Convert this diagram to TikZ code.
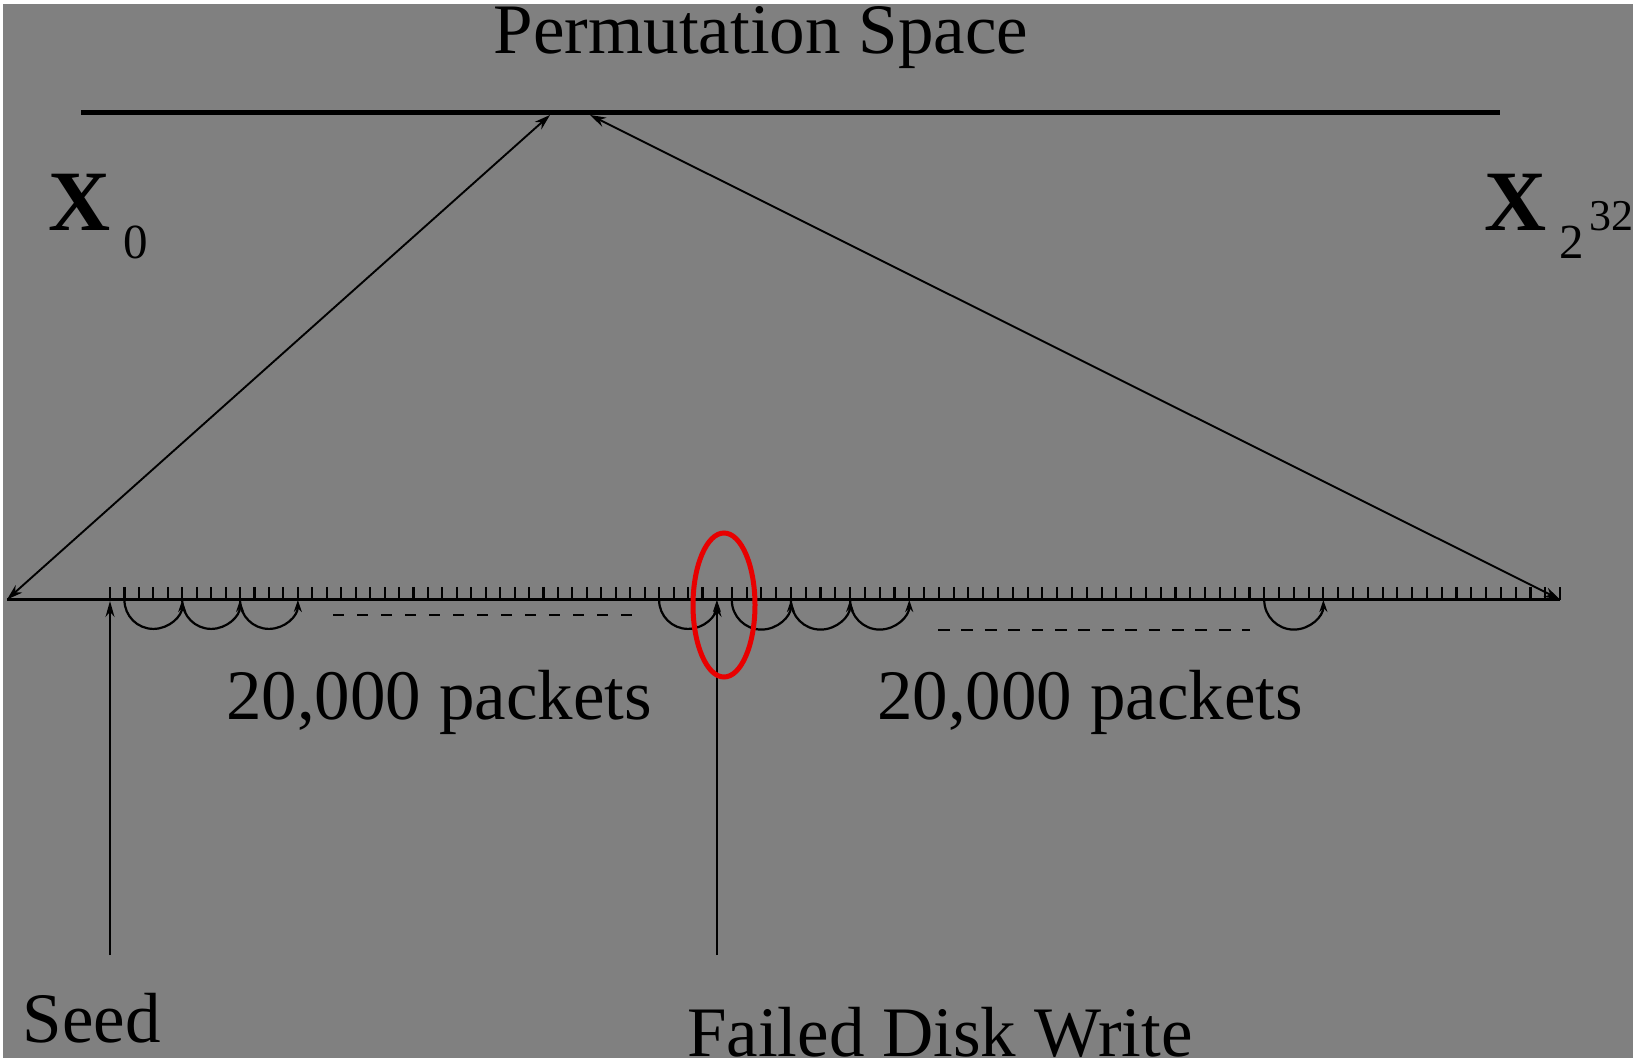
\documentclass[tikz,border=0pt]{standalone}
\usepackage{fontspec}
\setmainfont{Liberation Serif}
\usetikzlibrary{arrows.meta}
\definecolor{bggray}{RGB}{128,128,128}
\definecolor{markred}{RGB}{232,0,0}
\begin{document}
\begin{tikzpicture}[x=1pt,y=1pt,
  lbl/.style={inner sep=0pt,outer sep=0pt,text=black},
  bigtxt/.style={lbl,font=\fontsize{71}{71}\selectfont},
  bigarrow/.style={line width=1.9pt,{Stealth[length=16pt,width=10pt]}-{Stealth[length=16pt,width=10pt]}},
  uparrow/.style={line width=1.7pt,-{Stealth[length=16pt,width=9pt]}},
  tickmark/.style={line width=2.1pt},
  hoparrow/.style={line width=2.2pt,-{Stealth[open,length=12pt,width=8pt]}},
  dashline/.style={line width=2.8pt}
]
\useasboundingbox (0,0) rectangle (1633,-1063);
\clip (0,0) rectangle (1633,-1063);
\fill[white] (0,0) rectangle (1633,-1063);
\fill[bggray] (3,-4) rectangle (1633,-1058);

% key points
\coordinate (TL) at (81,-112);
\coordinate (TR) at (1500,-112);
\coordinate (PL) at (550,-115);
\coordinate (PR) at (590,-115);
\coordinate (L) at (7,-599.5);
\coordinate (R) at (1560,-599.5);
\coordinate (seedB) at (110,-955);
\coordinate (seedT) at (110,-601);
\coordinate (failB) at (717,-955);
\coordinate (failT) at (717,-601);

% title and top line
\node[bigtxt,anchor=base,text height=46pt] (title) at (761,-53) {Permutation Space};
\draw[line width=5pt] (TL) -- (TR);

% end labels
\node[lbl,anchor=base west,font=\fontsize{86}{86}\selectfont\bfseries] (x0) at (48,-230) {X};
\node[lbl,anchor=base west,font=\fontsize{49}{49}\selectfont] (x0sub) at (123,-258) {0};
\node[lbl,anchor=base west,font=\fontsize{86}{86}\selectfont\bfseries] (xn) at (1484,-230) {X};
\node[lbl,anchor=base west,font=\fontsize{49}{49}\selectfont] (xnsub) at (1559,-258) {2};
\node[lbl,anchor=base west,font=\fontsize{44}{44}\selectfont] (xnsup) at (1589,-230) {32};

% mapping arrows
\draw[bigarrow] (L) -- (PL);
\draw[bigarrow] (PR) -- (R);

% bottom line with ticks
\draw[line width=3pt] (L) -- (R);
\foreach \i in {0,...,42} \draw[tickmark] ({110+\i*14.45},-599.5) -- ++(0,13);
\foreach \i in {1,...,57} \draw[tickmark] ({717+\i*14.79},-599.5) -- ++(0,13);

% hops
\foreach \s in {1,5,9,38} \draw[hoparrow] ({110+\s*14.45},-600) arc[start angle=180,end angle=360,radius=28.9];
\foreach \s in {1,5,9,37} \draw[hoparrow] ({717+\s*14.79},-600) arc[start angle=180,end angle=360,radius=29.58];

% ellipsis dashes
\draw[dashline,dash pattern=on 11pt off 13pt] (333,-615) -- (641,-615);
\draw[dashline,dash pattern=on 11.7pt off 11.7pt] (938,-630) -- (1250,-630);

% packet labels
\node[bigtxt,anchor=base] (pk1) at (439,-719) {20,000 packets};
\node[bigtxt,anchor=base] (pk2) at (1090,-719) {20,000 packets};

% seed and failed write
\draw[uparrow] (seedB) -- (seedT);
\draw[uparrow] (failB) -- (failT);
\node[bigtxt,anchor=base west] (seed) at (23,-1042) {Seed};
\node[bigtxt,anchor=base west,text depth=0pt] (fail) at (687,-1056) {Failed Disk Write};

% red marker
\draw[markred,line width=5pt] (724,-605) ellipse [x radius=31,y radius=72];

% bottom white margin
\fill[white] (0,-1058) rectangle (1633,-1063);
\end{tikzpicture}
\end{document}
